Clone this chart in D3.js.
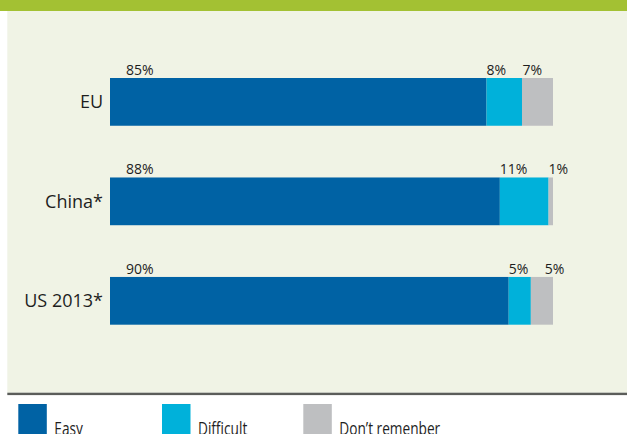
<!DOCTYPE html>
<html>
<head>
<meta charset="utf-8">
<script src="https://cdn.jsdelivr.net/npm/d3@7"></script>
<style>
  html, body { margin: 0; padding: 0; background: #ffffff; }
  svg { display: block; }
  text { font-family: "Open Sans", "Noto Sans", sans-serif; fill: #1e1e1e; }
</style>
</head>
<body>
<svg id="chart" width="627" height="434"></svg>
<script>
// Survey regions and answer shares (%)
const regions = ["EU", "China*", "US 2013*"];
const easy = [85, 88, 90];
const difficult = [8, 11, 5];
const dontRemember = [7, 1, 5];
const seriesNames = ["Easy", "Difficult", "Don\u2019t remenber"];
const seriesColors = ["#0062a4", "#00b1da", "#bebfc1"];

const W = 627, H = 434;
const svg = d3.select("#chart");

// header band, panel background and bottom rule
svg.append("rect").attr("x", 0).attr("y", 0).attr("width", W).attr("height", 11).attr("fill", "#a3c133");
svg.append("rect").attr("x", 7.3).attr("y", 11).attr("width", W - 7.3).attr("height", 381.7).attr("fill", "#f0f3e5");
svg.append("rect").attr("x", 7.3).attr("y", 392.7).attr("width", W - 7.3).attr("height", 2.4).attr("fill", "#5b5d5a");

const x = d3.scaleLinear().domain([0, 100]).range([110, 553]);
const y = d3.scaleBand().domain(regions).range([78, 324.7]).paddingInner(0.52).paddingOuter(0);

const rows = regions.map((r, i) => {
  const vals = [easy[i], difficult[i], dontRemember[i]];
  let cum = 0;
  const segs = vals.map((v, k) => {
    const s = { region: r, k, v, x0: cum, x1: cum + v };
    cum += v;
    return s;
  });
  return { region: r, segs };
});

const g = svg.append("g");

rows.forEach(row => {
  const top = y(row.region);
  g.selectAll(null).data(row.segs).enter().append("rect")
    .attr("x", d => x(d.x0))
    .attr("y", top)
    .attr("width", d => x(d.x1) - x(d.x0))
    .attr("height", y.bandwidth())
    .attr("fill", d => seriesColors[d.k]);

  // value labels sit above each segment, kept apart so they never collide
  let prev = -Infinity;
  row.segs.forEach(d => {
    let lx = x(d.x0) + (d.k === 0 ? 16 : 0);
    lx = Math.max(lx, prev + 36);
    prev = lx;
    g.append("text")
      .attr("x", lx)
      .attr("y", top - 3)
      .attr("font-size", 14)
      .text(d.v + "%");
  });

  // category label
  g.append("text")
    .attr("x", x(0) - 7)
    .attr("y", top + y.bandwidth() / 2 + 6.5)
    .attr("text-anchor", "end")
    .attr("font-size", 18)
    .text(row.region);
});

// legend
const legendX = [18.3, 162, 303.3];
const lg = svg.append("g");
seriesNames.forEach((name, k) => {
  lg.append("rect")
    .attr("x", legendX[k]).attr("y", 404)
    .attr("width", 28.5).attr("height", 34)
    .attr("fill", seriesColors[k]);
  lg.append("text")
    .attr("transform", `translate(${legendX[k] + 36},435) scale(0.72,1)`)
    .attr("font-size", 19)
    .text(name);
});
</script>
</body>
</html>
